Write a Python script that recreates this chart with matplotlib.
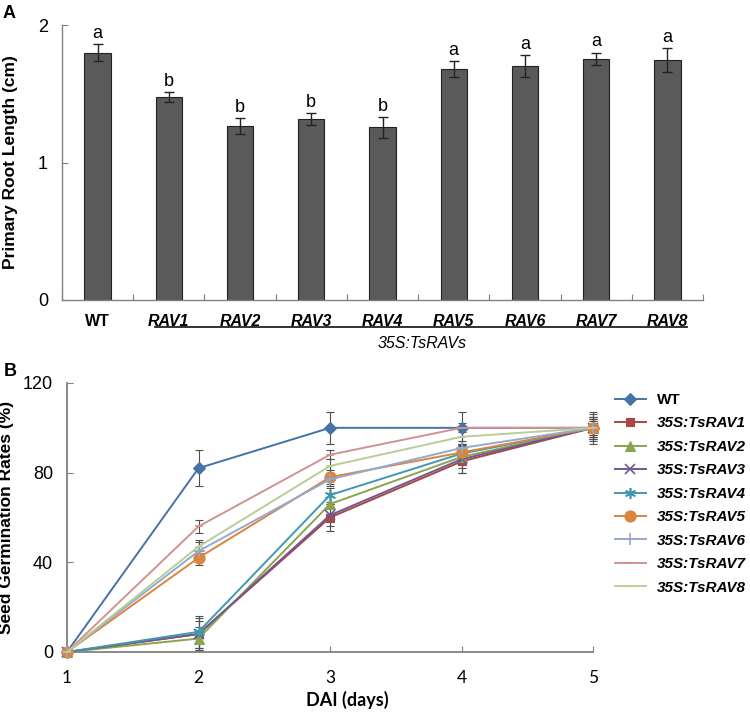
import matplotlib
matplotlib.use("Agg")
import matplotlib.pyplot as plt
import numpy as np
from matplotlib.transforms import blended_transform_factory

plt.rcParams['font.family'] = ['Liberation Sans', 'DejaVu Sans']

# ---------------- Panel A data ----------------
genotypes = ["WT", "RAV1", "RAV2", "RAV3", "RAV4", "RAV5", "RAV6", "RAV7", "RAV8"]
root_length = [1.80, 1.475, 1.265, 1.315, 1.255, 1.68, 1.70, 1.755, 1.745]
root_err = [0.065, 0.035, 0.06, 0.045, 0.075, 0.06, 0.08, 0.045, 0.085]
sig_letters = ["a", "b", "b", "b", "b", "a", "a", "a", "a"]
a_yticks = [0, 1, 2]

# ---------------- Panel B data ----------------
days = [1, 2, 3, 4, 5]
series_names = ["WT", "35S:TsRAV1", "35S:TsRAV2", "35S:TsRAV3", "35S:TsRAV4",
                "35S:TsRAV5", "35S:TsRAV6", "35S:TsRAV7", "35S:TsRAV8"]
wt = [0, 82, 100, 100, 100]
rav1 = [0, 8, 60, 85, 100]
rav2 = [0, 6, 66, 87, 100]
rav3 = [0, 8, 61, 86, 100]
rav4 = [0, 9, 70, 88.5, 100]
rav5 = [0, 42, 78, 89, 100]
rav6 = [0, 45, 77, 91, 100]
rav7 = [0, 56, 88, 100, 100]
rav8 = [0, 47, 83, 96, 100]
wt_err = [0, 8, 7, 7, 3]
rav1_err = [0, 6, 6, 5, 5]
rav2_err = [0, 5, 5, 5, 6]
rav3_err = [0, 7, 5, 6, 4]
rav4_err = [0, 7, 3, 4, 5]
rav5_err = [0, 3, 3, 4, 4]
rav6_err = [0, 4, 3, 3, 5]
rav7_err = [0, 3, 2, 2, 3]
rav8_err = [0, 3, 3, 3, 7]
b_yticks = [0, 40, 80, 120]

series_vals = [wt, rav1, rav2, rav3, rav4, rav5, rav6, rav7, rav8]
series_errs = [wt_err, rav1_err, rav2_err, rav3_err, rav4_err, rav5_err, rav6_err, rav7_err, rav8_err]
colors = ["#4572A7", "#AA4643", "#89A54E", "#71588F", "#4198AF",
          "#DB843D", "#93A9CF", "#D19392", "#B9CD96"]
markers = ["D", "s", "^", "x", (6, 2, 0), "o", "+", "_", "_"]
msizes = [6, 6, 7, 7, 8, 8, 8, 6, 6]

W, H = 750, 713
fig = plt.figure(figsize=(W / 100, H / 100), dpi=100)

axis_gray = "#808080"

# ================= Panel A =================
axA = fig.add_axes([62 / W, 1 - 300 / H, 641 / W, 275 / H])
x = np.arange(len(genotypes))
axA.bar(x, root_length, width=0.37, color="#5a5a5a", edgecolor="#222222", linewidth=0.8, zorder=2)
axA.errorbar(x, root_length, yerr=root_err, fmt="none", ecolor="#222222",
             elinewidth=1.0, capsize=3.5, capthick=1.0, zorder=3)
for xi, v, e, t in zip(x, root_length, root_err, sig_letters):
    axA.text(xi, v + e + 0.015, t, ha="center", va="bottom", fontsize=13)
axA.set_xlim(-0.5, 8.5)
axA.set_ylim(0, 2)
axA.set_yticks(a_yticks)
axA.set_yticklabels([str(t) for t in a_yticks], fontsize=13)
axA.set_xticks(np.arange(-0.5, 9, 1.0))
axA.set_xticklabels([])
axA.set_xticks(x, minor=True)
axA.set_xticklabels(genotypes, minor=True)
for i, lab in enumerate(axA.get_xticklabels(minor=True)):
    lab.set_fontweight("bold")
    lab.set_fontsize(11.5)
    if i > 0:
        lab.set_fontstyle("italic")
axA.tick_params(axis="x", which="minor", length=0, pad=10)
axA.tick_params(axis="x", which="major", direction="in", length=4, color=axis_gray)
axA.tick_params(axis="y", direction="in", length=4, color=axis_gray, pad=10)
for s in ["top", "right"]:
    axA.spines[s].set_visible(False)
for s in ["left", "bottom"]:
    axA.spines[s].set_color(axis_gray)
    axA.spines[s].set_linewidth(1.0)
axA.set_ylabel("Primary Root Length (cm)", fontsize=12.5, fontweight="bold")
axA.yaxis.set_label_coords(-0.069, 0.5)
trA = blended_transform_factory(axA.transData, axA.transAxes)
axA.plot([0.8, 8.27], [-0.098, -0.098], transform=trA, color="#222222", lw=1.3, clip_on=False)
axA.text(4.55, -0.157, "35S:TsRAVs", transform=trA, ha="center", va="center",
         fontsize=11.5, fontstyle="italic")

# ================= Panel B =================
axB = fig.add_axes([67 / W, 1 - 652 / H, 526 / W, 269 / H])
handles = []
for name, vals, errs in zip(series_names, series_vals, series_errs):
    axB.errorbar(days, vals, yerr=errs, fmt="none", ecolor="#505050",
                 elinewidth=0.8, capsize=3, capthick=0.8, zorder=2, clip_on=False)
for name, vals, c, m, ms in zip(series_names, series_vals, colors, markers, msizes):
    mew = 1.2 if m in ("x", "+", "_") or isinstance(m, tuple) else 0.8
    h, = axB.plot(days, vals, color=c, lw=1.4, marker=m, markersize=ms,
                  markeredgewidth=mew, markeredgecolor=c, markerfacecolor=c,
                  label=name, zorder=3, clip_on=False)
    handles.append(h)
axB.set_xlim(1, 5)
axB.set_ylim(0, 120)
axB.set_yticks(b_yticks)
axB.set_yticklabels([str(t) for t in b_yticks], fontsize=13)
axB.set_xticks(days)
axB.set_xticklabels([str(d) for d in days], fontsize=12.5, family=["Lato", "DejaVu Sans"])
axB.tick_params(axis="x", direction="in", length=4, color=axis_gray, pad=13)
axB.tick_params(axis="y", direction="in", length=4, color=axis_gray, pad=10)
for s in ["top", "right"]:
    axB.spines[s].set_visible(False)
for s in ["left", "bottom"]:
    axB.spines[s].set_color(axis_gray)
    axB.spines[s].set_linewidth(1.3)
axB.set_ylabel("Seed Germination Rates (%)", fontsize=12.5, fontweight="bold")
axB.yaxis.set_label_coords(-0.1, 0.5)
fig.text(347 / W, 1 - 700 / H, "DAI (days)", ha="center", va="center",
         fontsize=13, fontweight="bold", family=["Lato", "DejaVu Sans"])

leg = fig.legend(handles=handles, loc="upper left", bbox_to_anchor=(615 / W, 1 - 393 / H),
                 frameon=False, handlelength=2.0, handletextpad=0.75,
                 labelspacing=0.62, borderaxespad=0, borderpad=0,
                 prop={"size": 11, "weight": "bold", "style": "italic"})
for t in leg.get_texts():
    if t.get_text() == "WT":
        t.set_fontstyle("normal")

fig.text(9 / W, 1 - 14 / H, "A", ha="center", va="center", fontsize=13, fontweight="bold")
fig.text(10 / W, 1 - 372 / H, "B", ha="center", va="center", fontsize=13, fontweight="bold")

fig.savefig("out.png", dpi=100)
